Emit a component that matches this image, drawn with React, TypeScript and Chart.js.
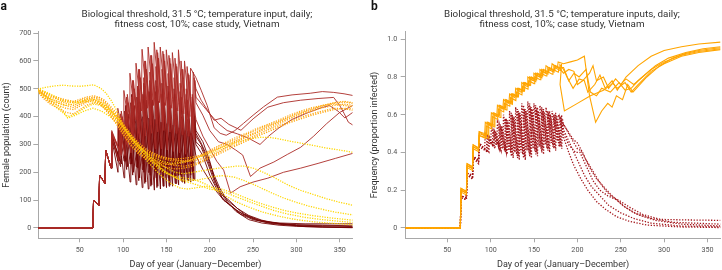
import React, { useEffect, useMemo, useRef } from "react";
import { Chart, registerables } from "chart.js";

Chart.register(...registerables);

const FONT = "Roboto, 'Noto Sans', sans-serif";

// ---------- shared ----------
const xTicks = [50, 100, 150, 200, 250, 300, 350];
const yTicksA = [0, 100, 200, 300, 400, 500, 600, 700];
const yTicksB = [0, 0.2, 0.4, 0.6, 0.8, 1.0];
const releaseDays = [65, 72, 79, 86, 93, 100, 107, 114, 121, 128, 135, 142, 149, 156, 163, 170, 177];

const titleLinesA = ["Biological threshold, 31.5 °C; temperature input, daily;", "fitness cost, 10%; case study, Vietnam"];
const titleLinesB = ["Biological threshold, 31.5 °C; temperature inputs, daily;", "fitness cost, 10%; case study, Vietnam"];
const xTitle = "Day of year (January–December)";
const yTitleA = "Female population (count)";
const yTitleB = "Frequency (proportion infected)";

// ---------- panel a: red solid (population, Wolbachia release) ----------
const popR1Peaks = [100, 190, 280, 350, 430, 494, 556, 592, 642, 650, 667, 650, 640, 630, 640, 600, 574];
const popR1Troughs = [0, 80, 160, 215, 300, 330, 360, 390, 420, 430, 440, 450, 440, 430, 420, 410, 400];
const popR1Tail = [[184, 540], [190, 495], [197, 440], [205, 360], [212, 340], [219, 333], [229, 350], [239, 376], [250, 405], [262, 435], [278, 470], [295, 478], [316, 484], [330, 490], [343, 487], [355, 482], [365, 476]];

const popR2Peaks = [100, 190, 280, 340, 410, 470, 530, 570, 600, 620, 640, 635, 620, 610, 600, 580, 560];
const popR2Troughs = [0, 80, 160, 215, 280, 310, 340, 360, 380, 390, 400, 405, 400, 395, 390, 380, 370];
const popR2Tail = [[184, 500], [190, 459], [198, 420], [205, 387], [213, 394], [222, 372], [236, 351], [250, 392], [267, 434], [285, 450], [305, 459], [325, 465], [343, 469], [350, 440], [355, 412], [360, 380], [365, 370]];

const popR3Peaks = [100, 190, 280, 335, 400, 450, 500, 540, 570, 590, 610, 600, 590, 580, 570, 550, 530];
const popR3Troughs = [0, 80, 160, 215, 260, 290, 310, 320, 330, 340, 345, 350, 345, 340, 335, 330, 320];
const popR3Tail = [[184, 450], [192, 405], [200, 350], [210, 310], [220, 300], [230, 280], [238, 262], [247, 185], [258, 215], [274, 237], [290, 265], [305, 290], [320, 330], [335, 375], [350, 415], [365, 440]];

const popR4Peaks = [100, 190, 280, 330, 380, 420, 470, 510, 540, 560, 580, 570, 555, 540, 520, 500, 480];
const popR4Troughs = [0, 80, 160, 215, 240, 260, 270, 275, 280, 280, 285, 285, 280, 275, 270, 265, 260];
const popR4Tail = [[184, 390], [192, 330], [200, 285], [208, 240], [216, 208], [224, 125], [235, 148], [250, 165], [267, 179], [285, 200], [305, 215], [325, 232], [345, 250], [365, 268]];

const popR5Peaks = [100, 190, 280, 345, 420, 480, 530, 570, 600, 620, 630, 625, 610, 590, 570, 555, 540];
const popR5Troughs = [0, 80, 160, 215, 270, 300, 320, 340, 360, 370, 375, 380, 375, 370, 360, 350, 340];
const popR5Tail = [[184, 470], [192, 440], [200, 410], [210, 375], [220, 350], [232, 338], [245, 322], [258, 300], [268, 330], [280, 360], [295, 390], [310, 410], [325, 428], [338, 440], [348, 420], [356, 395], [365, 415]];

const popD1Peaks = [100, 190, 280, 330, 380, 420, 450, 470, 480, 490, 490, 480, 470, 460, 450, 440, 430];
const popD1Troughs = [0, 80, 160, 215, 240, 240, 230, 220, 210, 200, 200, 200, 190, 190, 190, 190, 190];
const popD1Tail = [[184, 330], [190, 300], [198, 240], [205, 180], [212, 130], [220, 95], [230, 60], [245, 30], [260, 18], [280, 10], [300, 6], [330, 3], [365, 1]];

const popD2Peaks = [100, 190, 280, 320, 360, 400, 430, 440, 450, 450, 440, 430, 420, 410, 400, 390, 380];
const popD2Troughs = [0, 80, 160, 215, 220, 210, 190, 170, 160, 150, 145, 150, 150, 160, 170, 170, 170];
const popD2Tail = [[184, 300], [192, 260], [200, 190], [208, 140], [216, 100], [225, 80], [235, 50], [250, 30], [270, 18], [300, 12], [330, 10], [365, 8]];

const popD3Peaks = [100, 190, 280, 335, 390, 440, 480, 510, 520, 530, 530, 520, 510, 500, 490, 480, 470];
const popD3Troughs = [0, 80, 160, 215, 250, 260, 250, 240, 230, 220, 210, 210, 210, 210, 220, 220, 220];
const popD3Tail = [[184, 350], [192, 310], [200, 240], [206, 170], [214, 110], [222, 85], [232, 60], [245, 40], [260, 25], [280, 18], [310, 15], [340, 15], [365, 15]];

const popD4Peaks = [100, 190, 280, 325, 370, 410, 440, 450, 460, 460, 455, 450, 440, 430, 420, 410, 400];
const popD4Troughs = [0, 80, 160, 215, 230, 220, 200, 180, 165, 155, 150, 150, 155, 160, 165, 170, 175];
const popD4Tail = [[184, 310], [190, 290], [198, 230], [206, 160], [214, 120], [222, 100], [232, 70], [245, 45], [260, 28], [280, 15], [310, 5], [365, 2]];

const popD5Peaks = [100, 190, 280, 340, 390, 440, 480, 500, 510, 515, 510, 500, 490, 480, 470, 460, 450];
const popD5Troughs = [0, 80, 160, 215, 240, 240, 230, 215, 200, 190, 180, 180, 180, 185, 190, 195, 200];
const popD5Tail = [[184, 340], [190, 305], [198, 250], [205, 190], [212, 140], [220, 100], [228, 80], [240, 50], [255, 30], [270, 20], [300, 10], [330, 8], [365, 5]];

const popD6Peaks = [100, 190, 280, 320, 350, 370, 390, 400, 400, 395, 390, 380, 375, 370, 360, 350, 340];
const popD6Troughs = [0, 80, 160, 215, 200, 180, 165, 155, 145, 140, 136, 140, 145, 150, 155, 160, 165];
const popD6Tail = [[184, 260], [192, 210], [200, 170], [208, 130], [216, 100], [226, 75], [238, 50], [252, 30], [270, 16], [300, 8], [330, 4], [365, 2]];

// release-day offsets (days) of each population run after the fourth release
const popShifts = { R1: 0, R2: 3, R3: 5, R4: 2, R5: 4, D1: 1, D2: 4, D3: 2, D4: 5, D5: 3, D6: 1 };

// ---------- panel a: dotted (no release) ----------
const popY1 = [[1, 498], [10, 505], [20, 510], [31, 513], [40, 510], [51, 509], [60, 512], [66, 514], [74, 502], [80, 485], [86, 459], [92, 425], [97, 387], [103, 350], [110, 320], [118, 295], [125, 275], [135, 255], [145, 240], [155, 232], [165, 235], [175, 240], [185, 252], [195, 262], [205, 275], [215, 290], [228, 305], [240, 315], [250, 322], [259, 326], [270, 325], [280, 320], [292, 312], [305, 305], [320, 296], [335, 287], [350, 280], [365, 272]];
const popY2 = [[1, 495], [8, 480], [16, 465], [25, 450], [33, 440], [42, 445], [52, 455], [62, 460], [70, 455], [78, 440], [86, 420], [95, 390], [103, 355], [112, 320], [120, 290], [130, 260], [140, 235], [150, 215], [160, 200], [170, 195], [180, 200], [190, 205], [200, 210], [210, 215], [220, 218], [230, 222], [240, 222], [250, 215], [262, 200], [275, 180], [290, 155], [305, 135], [320, 120], [335, 105], [350, 92], [365, 82]];
const popY3 = [[1, 490], [10, 470], [20, 440], [28, 420], [36, 400], [45, 410], [55, 430], [65, 445], [75, 440], [85, 415], [95, 380], [105, 340], [115, 300], [125, 265], [135, 235], [145, 210], [155, 190], [165, 175], [175, 170], [185, 172], [195, 178], [205, 185], [215, 188], [228, 183], [240, 170], [255, 150], [270, 128], [285, 108], [300, 92], [315, 78], [330, 67], [345, 57], [365, 47]];
const popY4 = [[1, 492], [10, 475], [20, 450], [28, 430], [36, 395], [45, 405], [55, 420], [65, 430], [75, 420], [85, 400], [95, 370], [105, 330], [115, 290], [125, 250], [135, 215], [145, 185], [155, 160], [166, 143], [175, 140], [185, 145], [195, 150], [205, 145], [215, 138], [228, 125], [240, 110], [255, 92], [270, 77], [285, 64], [300, 54], [320, 44], [340, 36], [365, 28]];
const popY5 = [[1, 496], [10, 488], [20, 470], [30, 455], [40, 450], [50, 455], [60, 465], [70, 460], [80, 440], [90, 410], [100, 370], [110, 330], [120, 290], [130, 255], [140, 225], [150, 200], [160, 180], [170, 168], [180, 160], [190, 150], [200, 140], [210, 135], [220, 125], [232, 110], [245, 95], [260, 78], [275, 62], [290, 50], [310, 38], [330, 30], [350, 24], [365, 20]];
const popY6 = [[1, 500], [10, 490], [20, 475], [30, 460], [40, 455], [50, 450], [60, 455], [70, 450], [80, 435], [90, 405], [100, 360], [110, 320], [120, 280], [130, 245], [140, 215], [150, 195], [160, 185], [170, 180], [180, 175], [190, 165], [200, 150], [210, 130], [220, 112], [230, 95], [245, 75], [260, 58], [280, 42], [300, 30], [320, 22], [345, 16], [365, 12]];

const popO1 = [[1, 500], [8, 480], [16, 462], [25, 455], [34, 448], [43, 440], [50, 450], [57, 460], [66, 468], [72, 462], [78, 450], [86, 420], [94, 390], [101, 355], [109, 320], [118, 290], [128, 268], [140, 255], [150, 245], [160, 240], [170, 242], [180, 248], [190, 258], [198, 268], [210, 285], [220, 300], [230, 312], [242, 330], [255, 345], [267, 365], [280, 380], [292, 395], [305, 412], [318, 425], [330, 438], [343, 448], [355, 452], [365, 448]];
const popO2 = [[1, 495], [8, 478], [16, 455], [25, 448], [34, 440], [43, 432], [50, 445], [57, 455], [66, 462], [72, 455], [78, 440], [86, 410], [94, 380], [101, 345], [109, 312], [118, 280], [128, 258], [140, 240], [150, 230], [160, 225], [170, 222], [180, 228], [190, 240], [198, 252], [210, 270], [220, 288], [230, 300], [242, 318], [255, 335], [267, 352], [280, 368], [292, 382], [305, 398], [318, 410], [330, 420], [343, 430], [355, 428], [365, 423]];
const popO3 = [[1, 490], [8, 470], [16, 450], [25, 440], [34, 430], [43, 425], [50, 438], [57, 450], [66, 458], [72, 450], [78, 432], [86, 405], [94, 370], [101, 335], [109, 300], [118, 270], [128, 250], [140, 235], [150, 228], [160, 230], [170, 235], [180, 245], [190, 262], [198, 275], [210, 295], [220, 310], [230, 325], [242, 340], [255, 358], [267, 372], [280, 388], [292, 405], [305, 420], [318, 432], [330, 440], [343, 445], [355, 440], [365, 435]];
const popO4 = [[1, 498], [8, 485], [16, 470], [25, 462], [34, 455], [43, 450], [50, 458], [57, 465], [66, 470], [72, 468], [78, 455], [86, 428], [94, 398], [101, 362], [109, 328], [118, 298], [128, 275], [140, 258], [150, 250], [160, 248], [170, 250], [180, 255], [190, 262], [198, 272], [210, 290], [220, 305], [230, 318], [242, 336], [255, 352], [267, 368], [280, 384], [292, 400], [305, 415], [318, 428], [330, 440], [343, 450], [355, 455], [365, 450]];
const popO5 = [[1, 492], [8, 465], [16, 445], [25, 430], [34, 415], [43, 410], [50, 425], [57, 440], [66, 450], [72, 445], [78, 430], [86, 400], [94, 365], [101, 330], [109, 295], [118, 265], [128, 245], [140, 228], [150, 218], [160, 212], [170, 215], [180, 222], [190, 235], [198, 248], [210, 265], [220, 280], [230, 295], [242, 312], [255, 330], [267, 345], [280, 362], [292, 378], [305, 392], [318, 405], [330, 415], [343, 425], [355, 430], [365, 428]];
const popO6 = [[1, 500], [8, 488], [16, 475], [25, 468], [34, 460], [43, 455], [50, 462], [57, 470], [66, 475], [72, 470], [78, 460], [86, 435], [94, 405], [101, 370], [109, 335], [118, 305], [128, 280], [140, 262], [150, 252], [160, 245], [170, 240], [180, 240], [190, 248], [198, 258], [210, 275], [220, 292], [230, 308], [242, 325], [255, 342], [267, 358], [280, 375], [292, 392], [305, 408], [318, 420], [330, 432], [343, 440], [355, 445], [365, 440]];

// ---------- panel b: orange solid (frequency) ----------
const frqO1Peaks = [0.21, 0.34, 0.44, 0.51, 0.56, 0.61, 0.65, 0.68, 0.71, 0.74, 0.77, 0.80, 0.82, 0.84, 0.86, 0.87, 0.88];
const frqO1Troughs = [0, 0.19, 0.32, 0.42, 0.49, 0.54, 0.59, 0.63, 0.66, 0.69, 0.72, 0.75, 0.78, 0.80, 0.82, 0.84, 0.85];
const frqO1Tail = [[184, 0.87], [192, 0.88], [200, 0.89], [208, 0.91], [214, 0.70], [221, 0.56], [228, 0.62], [235, 0.66], [240, 0.64], [245, 0.70], [252, 0.68], [258, 0.76], [264, 0.72], [268, 0.74], [280, 0.80], [295, 0.86], [310, 0.90], [325, 0.925], [340, 0.94], [355, 0.95], [365, 0.955]];

const frqO2Peaks = [0.20, 0.33, 0.43, 0.50, 0.56, 0.61, 0.65, 0.68, 0.71, 0.74, 0.77, 0.80, 0.82, 0.84, 0.85, 0.86, 0.865];
const frqO2Troughs = [0, 0.185, 0.315, 0.415, 0.485, 0.545, 0.595, 0.635, 0.665, 0.695, 0.725, 0.755, 0.785, 0.805, 0.825, 0.835, 0.845];
const frqO2Tail = [[184, 0.84], [188, 0.80], [195, 0.74], [202, 0.79], [208, 0.78], [212, 0.72], [220, 0.76], [226, 0.81], [232, 0.74], [240, 0.78], [246, 0.73], [256, 0.80], [270, 0.86], [285, 0.91], [300, 0.94], [320, 0.96], [340, 0.975], [365, 0.985]];

const frqO3Peaks = [0.19, 0.32, 0.42, 0.49, 0.55, 0.60, 0.64, 0.67, 0.71, 0.74, 0.77, 0.80, 0.82, 0.84, 0.85, 0.86, 0.87];
const frqO3Troughs = [0, 0.175, 0.305, 0.405, 0.475, 0.535, 0.585, 0.625, 0.655, 0.695, 0.725, 0.755, 0.785, 0.805, 0.825, 0.835, 0.845];
const frqO3Tail = [[180, 0.76], [185, 0.62], [200, 0.66], [215, 0.70], [230, 0.73], [241, 0.766], [246, 0.74], [255, 0.77], [262, 0.72], [270, 0.76], [285, 0.83], [300, 0.87], [320, 0.91], [340, 0.93], [365, 0.945]];

const frqO4Peaks = [0.20, 0.33, 0.43, 0.49, 0.54, 0.59, 0.63, 0.66, 0.69, 0.72, 0.75, 0.78, 0.80, 0.82, 0.83, 0.84, 0.85];
const frqO4Troughs = [0, 0.185, 0.315, 0.415, 0.475, 0.525, 0.575, 0.615, 0.645, 0.675, 0.705, 0.735, 0.765, 0.785, 0.805, 0.815, 0.825];
const frqO4Tail = [[184, 0.82], [190, 0.84], [196, 0.83], [200, 0.76], [206, 0.78], [214, 0.82], [218, 0.86], [222, 0.78], [230, 0.80], [236, 0.74], [244, 0.79], [250, 0.76], [256, 0.79], [265, 0.76], [275, 0.80], [290, 0.86], [305, 0.90], [325, 0.93], [345, 0.95], [365, 0.96]];

const frqO5Peaks = [0.21, 0.34, 0.44, 0.51, 0.56, 0.61, 0.65, 0.68, 0.71, 0.74, 0.77, 0.79, 0.81, 0.83, 0.84, 0.85, 0.85];
const frqO5Troughs = [0, 0.195, 0.325, 0.425, 0.495, 0.545, 0.595, 0.635, 0.665, 0.695, 0.725, 0.755, 0.775, 0.795, 0.815, 0.825, 0.835];
const frqO5Tail = [[184, 0.85], [190, 0.78], [196, 0.82], [202, 0.80], [210, 0.84], [215, 0.72], [222, 0.70], [228, 0.74], [238, 0.72], [248, 0.77], [255, 0.73], [262, 0.74], [270, 0.78], [285, 0.84], [300, 0.88], [320, 0.915], [340, 0.935], [365, 0.95]];

// ---------- panel b: red dotted ----------
const frqR1Peaks = [0.17, 0.29, 0.38, 0.45, 0.50, 0.53, 0.56, 0.60, 0.62, 0.64, 0.66, 0.67, 0.66, 0.65, 0.64, 0.62, 0.60];
const frqR1Troughs = [0, 0.16, 0.27, 0.36, 0.42, 0.45, 0.44, 0.42, 0.41, 0.40, 0.40, 0.41, 0.42, 0.43, 0.44, 0.45, 0.46];
const frqR1Tail = [[184, 0.55], [190, 0.50], [196, 0.45], [200, 0.42], [204, 0.41], [210, 0.36], [218, 0.30], [226, 0.24], [234, 0.19], [242, 0.16], [250, 0.14], [260, 0.11], [276, 0.07], [296, 0.045], [330, 0.042], [365, 0.04]];

const frqR2Peaks = [0.17, 0.29, 0.38, 0.44, 0.49, 0.52, 0.55, 0.58, 0.60, 0.62, 0.63, 0.64, 0.63, 0.62, 0.61, 0.60, 0.59];
const frqR2Troughs = [0, 0.16, 0.27, 0.35, 0.41, 0.43, 0.42, 0.40, 0.38, 0.37, 0.37, 0.38, 0.39, 0.40, 0.41, 0.42, 0.43];
const frqR2Tail = [[184, 0.50], [190, 0.44], [198, 0.40], [203, 0.40], [210, 0.33], [218, 0.25], [226, 0.20], [235, 0.17], [245, 0.15], [255, 0.11], [270, 0.07], [290, 0.04], [320, 0.02], [365, 0.01]];

const frqR3Peaks = [0.16, 0.28, 0.37, 0.44, 0.48, 0.51, 0.54, 0.57, 0.59, 0.61, 0.62, 0.63, 0.62, 0.61, 0.60, 0.59, 0.58];
const frqR3Troughs = [0, 0.15, 0.26, 0.35, 0.40, 0.42, 0.41, 0.39, 0.37, 0.36, 0.36, 0.37, 0.38, 0.39, 0.40, 0.41, 0.42];
const frqR3Tail = [[184, 0.52], [188, 0.48], [194, 0.42], [200, 0.36], [208, 0.28], [216, 0.22], [226, 0.17], [236, 0.12], [250, 0.08], [265, 0.05], [285, 0.025], [320, 0.01], [365, 0.005]];

const frqR4Peaks = [0.17, 0.29, 0.38, 0.45, 0.49, 0.52, 0.55, 0.58, 0.61, 0.63, 0.65, 0.66, 0.65, 0.64, 0.62, 0.60, 0.58];
const frqR4Troughs = [0, 0.16, 0.28, 0.36, 0.41, 0.44, 0.43, 0.41, 0.40, 0.39, 0.39, 0.40, 0.41, 0.42, 0.42, 0.43, 0.43];
const frqR4Tail = [[184, 0.48], [190, 0.40], [196, 0.33], [204, 0.26], [212, 0.20], [222, 0.14], [232, 0.10], [245, 0.06], [260, 0.035], [280, 0.015], [320, 0.005], [365, 0.002]];

const frqR5Peaks = [0.16, 0.28, 0.37, 0.43, 0.48, 0.51, 0.54, 0.57, 0.59, 0.61, 0.63, 0.64, 0.64, 0.63, 0.62, 0.61, 0.60];
const frqR5Troughs = [0, 0.15, 0.26, 0.34, 0.40, 0.43, 0.42, 0.40, 0.39, 0.38, 0.38, 0.39, 0.40, 0.41, 0.42, 0.43, 0.44];
const frqR5Tail = [[182, 0.56], [188, 0.52], [195, 0.47], [200, 0.45], [206, 0.40], [214, 0.32], [222, 0.26], [230, 0.22], [240, 0.17], [252, 0.12], [265, 0.08], [285, 0.05], [310, 0.03], [365, 0.02]];

const frqShifts = { O1: 0, O2: 2, O3: 4, O4: 1, O5: 3, R1: 0, R2: 3, R3: 5, R4: 2, R5: 4 };

// ---------- helpers ----------
type P = { x: number; y: number };
function releaseSeries(troughs: number[], peaks: number[], tail: number[][], shift = 0): P[] {
  const pts: P[] = [{ x: 0, y: 0 }];
  releaseDays.forEach((d, i) => {
    const day = i >= 4 ? d + shift : d;
    pts.push({ x: day, y: troughs[i] });
    pts.push({ x: day + 0.8, y: peaks[i] });
  });
  tail.forEach(([x, y]) => pts.push({ x, y }));
  return pts;
}
const toPts = (arr: number[][]): P[] => arr.map(([x, y]) => ({ x, y }));

const RED_LIGHT = "rgba(172,44,40,0.9)";
const RED_DARK = "rgba(118,6,6,0.9)";
const YELLOW = "#ffd700";
const ORANGE = "#ffa70f";
const B_ORANGE = "#ffa500";
const B_RED = "#a3161b";

function solid(data: P[], color: string, width = 1.0) {
  return { data, borderColor: color, borderWidth: width, pointRadius: 0, fill: false, tension: 0 };
}
function dotted(data: P[], color: string, width = 1.3, dash = [1.2, 1.3]) {
  return { data, borderColor: color, borderWidth: width, borderDash: dash, pointRadius: 0, fill: false, tension: 0 };
}

// font size so that the first title line spans the width it has in the figure (231 px)
function fitTitleSize(text: string, target: number): number {
  try {
    const c = document.createElement("canvas").getContext("2d");
    if (!c) return 9.5;
    c.font = `10px ${FONT}`;
    const w = c.measureText(text).width;
    if (!w) return 9.5;
    return Math.max(8, Math.min(13, (10 * target) / w));
  } catch {
    return 9.5;
  }
}

function makeOptions(cfg: {
  yMin: number; yMax: number; yTicks: number[]; yWidth: number; padRight: number;
  yTitle: string; yTitlePad: number; yLabelPad: number; yFmt: (v: number) => string;
}) {
  const tickFont = { family: FONT, size: 7.2 };
  const titleFont = { family: FONT, size: 9, lineHeight: 1 };
  return {
    animation: false,
    responsive: false,
    maintainAspectRatio: false,
    events: [],
    layout: { padding: { top: 31.7, left: 0, right: cfg.padRight, bottom: 0 } },
    plugins: { legend: { display: false }, tooltip: { enabled: false }, title: { display: false } },
    elements: { point: { radius: 0 }, line: { tension: 0 } },
    scales: {
      x: {
        type: "linear",
        min: 2,
        max: 365,
        afterBuildTicks: (s: any) => { s.ticks = xTicks.map((v) => ({ value: v })); },
        afterFit: (s: any) => { s.height = 31.7; },
        grid: { display: true, drawOnChartArea: false, drawTicks: true, tickLength: 4, color: "#a8a8a8" },
        border: { display: true, color: "#a8a8a8", width: 1 },
        ticks: { font: tickFont, color: "#555", padding: 3.5, maxRotation: 0, autoSkip: false, callback: (v: number) => String(v) },
        title: { display: true, text: xTitle, font: titleFont, color: "#333", padding: { top: 0, bottom: 0.5 } },
      },
      y: {
        type: "linear",
        min: cfg.yMin,
        max: cfg.yMax,
        afterBuildTicks: (s: any) => { s.ticks = cfg.yTicks.map((v) => ({ value: v })); },
        afterFit: (s: any) => { s.width = cfg.yWidth; },
        grid: { display: true, drawOnChartArea: false, drawTicks: true, tickLength: 5, color: "#a8a8a8" },
        border: { display: true, color: "#a8a8a8", width: 1 },
        ticks: { font: tickFont, color: "#555", padding: cfg.yLabelPad, autoSkip: false, callback: (v: number) => cfg.yFmt(v) },
        title: { display: true, text: cfg.yTitle, font: titleFont, color: "#333", padding: { top: cfg.yTitlePad, bottom: 0 } },
      },
    },
  };
}

function Header({ letter, letterX, lines, centerX, size }: { letter: string; letterX: number; lines: string[]; centerX: number; size: number }) {
  return (
    <>
      <div style={{ position: "absolute", left: letterX, top: 0, fontFamily: FONT, fontWeight: 700, fontSize: 12, lineHeight: "12px", color: "#111" }}>{letter}</div>
      <div style={{ position: "absolute", left: centerX - 170, top: 8.5, width: 340, textAlign: "center", fontFamily: FONT, fontSize: size, lineHeight: "10px", color: "#333", whiteSpace: "nowrap" }}>
        {lines.map((t, i) => <div key={i}>{t}</div>)}
      </div>
    </>
  );
}

function PanelA() {
  const ref = useRef<HTMLCanvasElement>(null);
  useEffect(() => {
    if (!ref.current) return;
    const s = popShifts;
    const datasets = [
      dotted(toPts(popO5), ORANGE), dotted(toPts(popO2), ORANGE), dotted(toPts(popO3), ORANGE),
      dotted(toPts(popO1), ORANGE), dotted(toPts(popO4), ORANGE), dotted(toPts(popO6), ORANGE),
      dotted(toPts(popY1), YELLOW), dotted(toPts(popY2), YELLOW), dotted(toPts(popY3), YELLOW),
      dotted(toPts(popY4), YELLOW), dotted(toPts(popY5), YELLOW), dotted(toPts(popY6), YELLOW),
      solid(releaseSeries(popR1Troughs, popR1Peaks, popR1Tail, s.R1), RED_LIGHT),
      solid(releaseSeries(popR2Troughs, popR2Peaks, popR2Tail, s.R2), RED_LIGHT),
      solid(releaseSeries(popR3Troughs, popR3Peaks, popR3Tail, s.R3), RED_LIGHT),
      solid(releaseSeries(popR4Troughs, popR4Peaks, popR4Tail, s.R4), RED_LIGHT),
      solid(releaseSeries(popR5Troughs, popR5Peaks, popR5Tail, s.R5), RED_LIGHT),
      solid(releaseSeries(popD1Troughs, popD1Peaks, popD1Tail, s.D1), RED_DARK),
      solid(releaseSeries(popD2Troughs, popD2Peaks, popD2Tail, s.D2), RED_DARK),
      solid(releaseSeries(popD3Troughs, popD3Peaks, popD3Tail, s.D3), RED_DARK),
      solid(releaseSeries(popD4Troughs, popD4Peaks, popD4Tail, s.D4), RED_DARK),
      solid(releaseSeries(popD5Troughs, popD5Peaks, popD5Tail, s.D5), RED_DARK),
      solid(releaseSeries(popD6Troughs, popD6Peaks, popD6Tail, s.D6), RED_DARK),
    ];
    const chart = new Chart(ref.current, {
      type: "line",
      data: { datasets } as any,
      options: makeOptions({
        yMin: -37, yMax: 705, yTicks: yTicksA, yWidth: 38.3, padRight: 8.3,
        yTitle: yTitleA, yTitlePad: 2, yLabelPad: 2, yFmt: (v) => String(v),
      }) as any,
    });
    return () => chart.destroy();
  }, []);
  return <canvas ref={ref} width={361} height={270} style={{ position: "absolute", left: 0, top: 0, width: 361, height: 270 }} />;
}

function PanelB() {
  const ref = useRef<HTMLCanvasElement>(null);
  useEffect(() => {
    if (!ref.current) return;
    const s = frqShifts;
    const dash = [1.3, 1.6];
    const datasets = [
      solid(releaseSeries(frqO1Troughs, frqO1Peaks, frqO1Tail, s.O1), B_ORANGE, 1.1),
      solid(releaseSeries(frqO2Troughs, frqO2Peaks, frqO2Tail, s.O2), B_ORANGE, 1.1),
      solid(releaseSeries(frqO3Troughs, frqO3Peaks, frqO3Tail, s.O3), B_ORANGE, 1.1),
      solid(releaseSeries(frqO4Troughs, frqO4Peaks, frqO4Tail, s.O4), B_ORANGE, 1.1),
      solid(releaseSeries(frqO5Troughs, frqO5Peaks, frqO5Tail, s.O5), B_ORANGE, 1.1),
      dotted(releaseSeries(frqR1Troughs, frqR1Peaks, frqR1Tail, s.R1), B_RED, 1.3, dash),
      dotted(releaseSeries(frqR2Troughs, frqR2Peaks, frqR2Tail, s.R2), B_RED, 1.3, dash),
      dotted(releaseSeries(frqR3Troughs, frqR3Peaks, frqR3Tail, s.R3), B_RED, 1.3, dash),
      dotted(releaseSeries(frqR4Troughs, frqR4Peaks, frqR4Tail, s.R4), B_RED, 1.3, dash),
      dotted(releaseSeries(frqR5Troughs, frqR5Peaks, frqR5Tail, s.R5), B_RED, 1.3, dash),
    ];
    const chart = new Chart(ref.current, {
      type: "line",
      data: { datasets } as any,
      options: makeOptions({
        yMin: -0.055, yMax: 1.04, yTicks: yTicksB, yWidth: 44.7, padRight: 1.5,
        yTitle: yTitleB, yTitlePad: 9.5, yLabelPad: 3.5, yFmt: (v) => (v === 0 ? "0" : v.toFixed(1)),
      }) as any,
    });
    return () => chart.destroy();
  }, []);
  return <canvas ref={ref} width={361} height={270} style={{ position: "absolute", left: 361, top: 0, width: 361, height: 270 }} />;
}

export default function App() {
  const titleSize = useMemo(() => fitTitleSize(titleLinesA[0], 231), []);
  return (
    <div style={{ position: "fixed", left: 0, top: 0, width: 722, height: 270, background: "#fff", overflow: "hidden" }}>
      <PanelA />
      <PanelB />
      <Header letter="a" letterX={0.5} lines={titleLinesA} centerX={197} size={titleSize} />
      <Header letter="b" letterX={371} lines={titleLinesB} centerX={562} size={titleSize} />
    </div>
  );
}
